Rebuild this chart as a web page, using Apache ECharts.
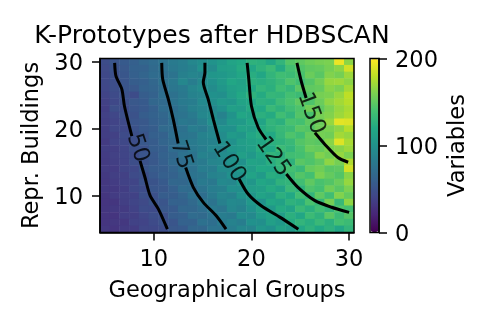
<!DOCTYPE html>
<html>
<head>
<meta charset="utf-8">
<style>html,body{margin:0;padding:0;background:#fff}#chart{width:488px;height:326px}</style>
<script src="https://cdn.jsdelivr.net/npm/echarts@6/dist/echarts.min.js"></script>
</head>
<body>
<div id="chart"></div>
<script>
// cell values, one row per y, top row (30) first, columns x = 5..30
var rows = [
  [46,52,56,60,66,70,76,82,85,92,97,102,108,116,120,128,126,118,130,146,150,155,158,160,195,165],
  [44,50,54,61,62,68,74,80,84,88,100,96,110,112,122,118,128,135,122,140,145,150,152,158,165,186],
  [43,48,53,60,64,70,72,76,86,90,88,104,106,110,118,124,118,130,138,136,142,154,148,162,158,170],
  [43,47,52,58,60,66,74,80,92,84,94,100,108,118,114,126,124,128,134,144,138,146,156,168,170,165],
  [42,47,52,54,62,64,70,78,82,90,96,96,104,112,116,120,130,126,138,132,148,150,152,164,160,172],
  [40,45,50,46,58,62,72,74,80,88,90,100,98,110,120,128,122,132,130,140,136,146,158,160,168,180],
  [38,43,48,54,56,66,68,76,82,84,94,98,106,104,116,118,126,124,136,142,150,144,154,166,172,178],
  [36,47,46,52,55,60,70,72,78,86,90,92,100,112,110,122,120,134,128,138,144,156,150,160,168,174],
  [38,42,48,50,58,62,66,74,76,82,92,96,88,102,118,114,126,122,138,130,146,142,158,162,170,176],
  [37,40,44,52,54,60,64,72,80,78,86,98,94,106,108,118,116,130,126,142,140,150,154,168,192,190],
  [36,42,43,50,55,58,68,70,74,84,82,90,100,100,114,112,122,128,134,136,148,146,156,160,166,178],
  [36,38,45,48,52,60,62,72,76,78,88,92,96,108,104,118,124,120,132,144,138,152,158,156,172,168],
  [34,40,43,47,54,57,64,68,78,82,86,88,98,100,110,114,118,126,128,134,146,150,148,164,190,174],
  [36,37,41,48,50,58,60,70,72,80,84,92,90,104,108,112,124,120,136,130,142,154,152,160,164,170],
  [35,38,41,45,52,55,62,66,74,76,88,86,96,98,112,106,118,130,126,138,140,146,162,156,168,160],
  [34,37,40,47,50,54,60,68,70,78,82,90,92,102,100,116,114,124,132,128,148,144,150,166,158,176],
  [35,35,41,43,52,57,58,64,72,74,84,84,96,96,108,110,120,118,130,140,134,152,156,148,150,186],
  [33,37,38,45,48,55,60,62,68,76,78,88,90,100,102,116,108,124,122,136,146,140,160,152,146,164],
  [32,35,39,41,50,51,56,66,66,72,82,80,94,92,106,104,118,114,128,130,138,150,142,146,154,168],
  [33,33,36,43,46,53,54,60,70,70,76,84,86,98,98,110,112,122,116,134,128,144,140,156,148,160],
  [31,35,38,39,48,49,58,58,64,74,72,82,90,88,102,104,116,110,126,120,138,130,150,138,162,152],
  [30,31,37,41,44,51,52,62,62,68,78,76,86,94,92,106,100,118,114,128,124,142,132,158,134,166],
  [31,33,34,39,46,45,54,56,66,66,72,82,78,92,88,100,112,106,122,116,134,126,138,130,144,140],
  [30,30,36,37,42,47,48,58,60,70,68,76,84,82,96,94,108,114,110,126,118,136,128,148,136,146],
  [30,32,32,39,40,45,50,52,62,62,74,72,82,88,84,100,98,112,106,122,130,124,134,126,140,136],
  [32,30,34,35,42,43,46,54,56,66,66,76,76,84,92,90,104,100,114,108,118,128,120,128,118,130]
]
var xLabels = ['5','6','7','8','9','10','11','12','13','14','15','16','17','18','19','20','21','22','23','24','25','26','27','28','29','30']
var yLabels = xLabels

// contour lines in data units, null splits the line where the label sits
var contour50 = [[6,29.85],[6.13,27.9],[6.74,25.9],[7,23.4],[7.76,18.9],null,[8.6,15.2],[9.1,12.75],[9.63,10],[10.48,8],[11.4,5]]
var contour75 = [[10.82,29.85],[10.92,27.4],[11.5,24.4],[12,21.4],[12.5,17.8],null,[13.27,14.2],[14.05,11.25],[15.07,9],[16.4,7],[17.4,5]]
var contour100 = [[15.24,29.85],[15.24,28.4],[15.07,27],[15.58,24.4],[16.1,21.4],[16.77,17.8],null,[18.74,12.5],[19.66,10.25],[21,8.5],[22.9,6.8],[24.8,5]]
var contour125 = [[19.56,29.85],[19.73,27.4],[20,23.4],[20.7,20.15],[21.5,18.4],null,[23.57,13.25],[24.76,11.25],[26.5,9.26],[28.2,8.27],[30,7.5]]
var contour150 = [[24.66,29.85],[25.1,27.1],[25.6,24.6],null,[26.5,19.4],[27.5,17.7],[28.85,15.7],[29.9,15]]
var contours = [contour50, contour75, contour100, contour125, contour150]

var levelNames = ['50','75','100','125','150']
var labelX = [8.34,12.8,17.7,22.2,26.1]
var labelY = [17.1,16.1,15,15.8,22.3]
var labelAngle = [-72,-72,-58,-55,-70]

var viridis = ['#440154','#482576','#414487','#35608d','#2a788e','#21918c','#22a884','#43bf71','#7ad151','#bddf26','#fde725']

var heatData = []
rows.forEach(function (row, r) {
  row.forEach(function (v, c) {
    heatData.push([c, rows.length - 1 - r, v])
  })
})

var labelData = levelNames.map(function (name, i) {
  return {
    value: [labelX[i], labelY[i]],
    label: { rotate: labelAngle[i], formatter: name }
  }
})

var lineSeries = contours.map(function (pts, i) {
  return {
    type: 'line',
    name: levelNames[i],
    xAxisIndex: 1,
    yAxisIndex: 1,
    showSymbol: false,
    silent: true,
    smooth: 0.25,
    z: 3,
    lineStyle: { color: '#000', width: 3 },
    data: pts.map(function (p) { return p || [null, null] })
  }
})

var font = 'DejaVu Sans'
var tickFn = function (i, v) { return Number(v) % 10 === 0 }

var chart = echarts.init(document.getElementById('chart'))
chart.setOption({
  animation: false,
  backgroundColor: '#fff',
  textStyle: { fontFamily: font },
  title: {
    text: 'K-Prototypes after HDBSCAN',
    left: 207,
    top: 19,
    textAlign: 'center',
    textStyle: { fontFamily: font, fontSize: 25, fontWeight: 'normal', color: '#000' }
  },
  grid: [
    { left: 100, top: 58.5, width: 254, height: 174, containLabel: false, show: true, backgroundColor: 'transparent', borderColor: '#000', borderWidth: 1.5, z: 5 },
    { left: 370, top: 58.5, width: 9, height: 174, show: true, backgroundColor: 'transparent', borderColor: '#000', borderWidth: 1.5, z: 5 }
  ],
  xAxis: [
    {
      type: 'category', gridIndex: 0, data: xLabels, z: 5,
      name: 'Geographical Groups', nameLocation: 'middle', nameGap: 47,
      nameTextStyle: { fontSize: 22.5, color: '#000', fontFamily: font },
      axisLine: { lineStyle: { color: '#000', width: 1.5 } },
      axisTick: { show: true, alignWithLabel: true, length: 8, interval: tickFn, lineStyle: { color: '#000', width: 1.5 } },
      axisLabel: { interval: tickFn, fontSize: 22.5, color: '#000', margin: 16, fontFamily: font },
      splitLine: { show: false }
    },
    { type: 'value', gridIndex: 0, min: 4.5, max: 30.5, show: false },
    { type: 'category', gridIndex: 1, data: [''], show: false }
  ],
  yAxis: [
    {
      type: 'category', gridIndex: 0, data: yLabels, z: 5,
      name: 'Repr. Buildings', nameLocation: 'middle', nameGap: 53, nameRotate: 90,
      nameTextStyle: { fontSize: 22.5, color: '#000', fontFamily: font },
      axisLine: { lineStyle: { color: '#000', width: 1.5 } },
      axisTick: { show: true, alignWithLabel: true, length: 8, interval: tickFn, lineStyle: { color: '#000', width: 1.5 } },
      axisLabel: { interval: tickFn, fontSize: 22.5, color: '#000', margin: 17, verticalAlign: 'top', lineHeight: 4, fontFamily: font },
      splitLine: { show: false }
    },
    { type: 'value', gridIndex: 0, min: 4.5, max: 30.5, show: false },
    {
      type: 'value', gridIndex: 1, position: 'right', min: 0, max: 200, interval: 100, z: 5,
      name: 'Variables', nameLocation: 'middle', nameGap: 68, nameRotate: 90,
      nameTextStyle: { fontSize: 22.5, color: '#000', fontFamily: font },
      axisLine: { show: true, lineStyle: { color: '#000', width: 1.5 } },
      axisTick: { show: true, length: 8, lineStyle: { color: '#000', width: 1.5 } },
      axisLabel: { fontSize: 22.5, color: '#000', margin: 16, verticalAlign: 'top', lineHeight: 6, fontFamily: font },
      splitLine: { show: false }
    }
  ],
  visualMap: {
    type: 'continuous',
    seriesIndex: 0,
    min: 0,
    max: 200,
    left: 370.5,
    top: 59,
    padding: 0,
    itemWidth: 8,
    itemHeight: 173,
    text: null,
    showLabel: false,
    calculable: false,
    hoverLink: false,
    inRange: { color: viridis }
  },
  series: [
    { type: 'heatmap', xAxisIndex: 0, yAxisIndex: 0, data: heatData, silent: true, z: 1 }
  ].concat(lineSeries).concat([
    {
      type: 'scatter',
      xAxisIndex: 1,
      yAxisIndex: 1,
      symbolSize: 0,
      silent: true,
      z: 4,
      label: { show: true, position: 'inside', fontSize: 22.5, color: '#000', fontFamily: font },
      data: labelData
    }
  ])
})
</script>
</body>
</html>
